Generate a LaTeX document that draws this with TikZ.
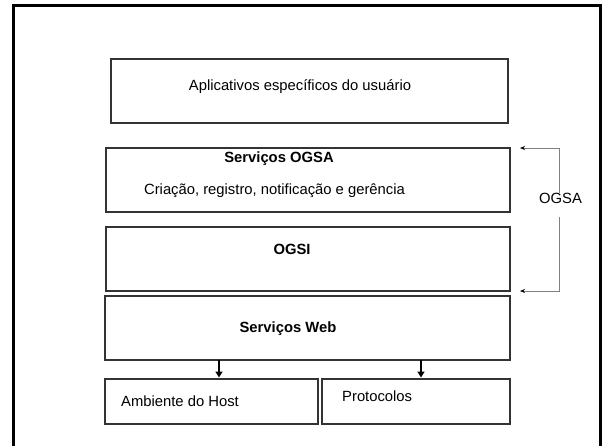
\documentclass[tikz,border=0pt]{standalone}
\usepackage{fontspec}
\setmainfont{Liberation Sans}
\usetikzlibrary{arrows.meta,calc}
\begin{document}
\begin{tikzpicture}[x=1pt,y=-1pt,
  box/.style={draw=black!80, line width=1.1pt, inner sep=0pt, outer sep=0pt, anchor=north west},
  txt/.style={font=\fontsize{14.8}{17}\selectfont, inner sep=0pt},
  btxt/.style={font=\fontsize{14.8}{17}\selectfont\bfseries, inner sep=0pt},
  brk/.style={draw=black!50, line width=1pt, -{Stealth[length=5pt,width=4pt,black]}},
  dn/.style={line width=2.2pt, -{Triangle[length=6pt,width=7pt]}, shorten >=1.5pt}
]
\useasboundingbox (0,0) rectangle (604,445);
\fill[white] (0,0) rectangle (604,445);
\draw[line width=2.8pt] (13.5,446) -- (13.5,5.5) -- (600.5,5.5) -- (600.5,446);

\node[box, minimum width=397pt, minimum height=64pt] (b1) at (111,59) {};
\node[box, minimum width=404pt, minimum height=64pt] (b2) at (106,148) {};
\node[box, minimum width=404pt, minimum height=64pt] (b3) at (106,227) {};
\node[box, minimum width=405pt, minimum height=64pt] (b4) at (105,296) {};
\node[box, minimum width=213pt, minimum height=45pt] (b5) at (105,379) {};
\node[box, minimum width=188pt, minimum height=45pt] (b6) at (322,379) {};

\node[txt] (t1) at (300,87) {Aplicativos específicos do usuário};
\node[btxt] (t2) at (279,159) {Serviços OGSA};
\node[txt] (t3) at (274.5,191) {Criação, registro, notificação e gerência};
\node[btxt] (t4) at (292,249) {OGSI};
\node[btxt] (t5) at (288,329) {Serviços Web};
\node[txt, anchor=west] (t6) at (121,401) {Ambiente do Host};
\node[txt, anchor=west] (t7) at (342,396) {Protocolos};

\node[txt] (og) at (560.5,198) {OGSA};
\draw[brk] (559,0 |- og.north) |- ($(b2.north east)+(10,0)$);
\draw[brk] ($(559,0 |- og.south)+(0,13.5)$) |- ($(b3.south east)+(10,0)$);

\draw[dn] (219,0 |- b4.south) -- (219,0 |- b5.north);
\draw[dn] (421,0 |- b4.south) -- (421,0 |- b6.north);
\end{tikzpicture}
\end{document}
